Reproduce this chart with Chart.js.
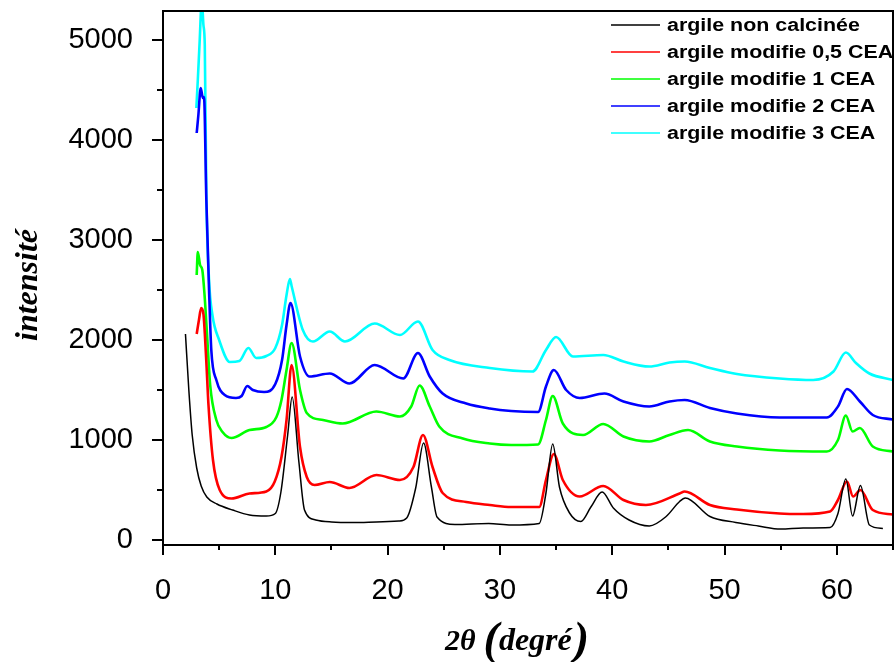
<!DOCTYPE html>
<html>
<head>
<meta charset="utf-8">
<script src="https://cdn.jsdelivr.net/npm/chart.js@4"></script>
<style>
  body { margin: 0; background: #fff; }
  canvas { display: block; }
</style>
</head>
<body>
<canvas id="xrd" width="895" height="662"></canvas>
<script>
// Series data (2θ in degrees, intensity)
const angleNonCalc = [2.0, 2.3, 2.6, 3.0, 3.4, 3.9, 4.8, 6.2, 7.7, 9.2, 10.0, 10.5, 11.1, 11.5, 12.1, 12.6, 13.6, 15, 17, 19, 21, 21.7, 22.5, 23.2, 23.9, 24.4, 26, 29, 31, 33.5, 34.1, 34.7, 35.3, 36.2, 37.2, 38.1, 39.1, 40.1, 41.5, 43.3, 44.8, 46.0, 46.5, 48.7, 51, 53, 55, 57, 59.4, 60.1, 60.8, 61.4, 62.1, 62.9, 64.1];
const intNonCalc = [2060, 1500, 1050, 720, 540, 430, 360, 300, 250, 240, 265, 480, 1050, 1430, 780, 300, 200, 180, 175, 180, 190, 220, 520, 970, 530, 230, 155, 165, 150, 165, 470, 960, 530, 270, 185, 330, 480, 320, 200, 140, 235, 385, 420, 235, 175, 140, 110, 120, 125, 265, 610, 240, 545, 150, 115];

const angle05 = [3.0, 3.2, 3.4, 3.6, 3.85, 4.05, 4.45, 5.05, 6.1, 7.7, 9.2, 9.95, 10.55, 11.0, 11.45, 12.2, 12.8, 13.5, 14.85, 16.6, 19.0, 21.1, 22.3, 23.15, 24.0, 24.9, 27.0, 29.1, 31, 33.5, 34.1, 34.8, 35.6, 37.1, 39.2, 41.0, 43.0, 46.0, 46.45, 48.7, 51.1, 54.9, 57, 59.4, 60.1, 60.9, 61.45, 62.1, 63.2, 65];
const int05 = [2060, 2200, 2320, 2260, 1800, 1350, 800, 500, 415, 465, 485, 585, 830, 1200, 1750, 930, 630, 550, 580, 520, 650, 600, 730, 1050, 730, 470, 380, 350, 330, 330, 600, 860, 600, 435, 540, 400, 350, 465, 485, 350, 305, 265, 260, 285, 400, 585, 435, 500, 300, 255];

const angle1 = [3.0, 3.1, 3.3, 3.5, 3.7, 3.95, 4.2, 4.75, 5.3, 6.1, 7.7, 9.2, 10.1, 10.55, 11.0, 11.45, 12.2, 12.8, 14.25, 16.0, 19.0, 21.1, 22.1, 22.85, 23.75, 24.6, 26.7, 29.1, 31, 33.4, 34.1, 34.7, 35.6, 37.4, 39.2, 41.0, 43.3, 45.1, 46.75, 48.7, 51.1, 54.9, 59.1, 60.1, 60.8, 61.4, 62.05, 63.2, 65];
const int1 = [2650, 2880, 2750, 2700, 2450, 2000, 1550, 1200, 1080, 1020, 1100, 1130, 1230, 1400, 1700, 1970, 1500, 1270, 1200, 1165, 1285, 1235, 1335, 1545, 1335, 1135, 1015, 965, 950, 955, 1200, 1440, 1165, 1050, 1160, 1035, 985, 1050, 1100, 985, 935, 895, 885, 1000, 1245, 1085, 1120, 935, 885];

const angle2 = [3.0, 3.15, 3.36, 3.55, 3.65, 3.86, 4.1, 4.3, 4.75, 5.5, 6.5, 7.0, 7.5, 8.0, 9.0, 10.0, 10.6, 11.0, 11.35, 12.2, 13.05, 14.85, 16.6, 18.85, 21.4, 22.7, 23.75, 24.9, 27.0, 29.1, 31, 33.4, 34.1, 34.8, 35.9, 37.1, 39.3, 41.0, 43.3, 45.1, 46.45, 48.7, 51.1, 54.9, 59.1, 60.1, 60.9, 62.05, 63.2, 65];
const int2 = [4070, 4250, 4520, 4420, 4430, 3400, 2500, 1900, 1600, 1450, 1420, 1440, 1540, 1500, 1480, 1560, 1800, 2150, 2370, 1835, 1635, 1665, 1565, 1750, 1615, 1870, 1635, 1465, 1365, 1315, 1290, 1280, 1535, 1700, 1500, 1420, 1465, 1385, 1335, 1385, 1400, 1320, 1265, 1225, 1225, 1335, 1510, 1385, 1250, 1205];

const angle3 = [2.97, 3.1, 3.27, 3.45, 3.6, 3.72, 3.86, 4.1, 4.4, 5.0, 5.95, 6.8, 7.6, 8.3, 9.2, 10.0, 10.6, 11.0, 11.3, 11.45, 12.45, 13.35, 14.85, 16.2, 18.85, 21.1, 22.7, 24.0, 25.5, 29.1, 32.9, 34.1, 35.0, 36.5, 39.2, 41.0, 43.3, 45.1, 46.45, 48.7, 51.1, 54.9, 57.9, 59.7, 60.8, 61.7, 62.9, 65];
const int3 = [4320, 4600, 5000, 5400, 5150, 4950, 3450, 2600, 2250, 2000, 1780, 1790, 1920, 1820, 1840, 1920, 2150, 2450, 2610, 2540, 2100, 1985, 2085, 1985, 2165, 2050, 2185, 1900, 1800, 1720, 1685, 1900, 2030, 1835, 1850, 1785, 1735, 1775, 1785, 1720, 1660, 1615, 1600, 1685, 1875, 1770, 1665, 1600];

const seriesLabels = [
    "argile non calcinée",
    "argile modifie 0,5 CEA",
    "argile modifie 1 CEA",
    "argile modifie 2 CEA",
    "argile modifie 3 CEA"
];
const seriesColors = ["#000000", "#ff0000", "#00ff00", "#0000ff", "#00ffff"];

// tick positions
const xTickValues = [0, 10, 20, 30, 40, 50, 60];
const yTickValues = [0, 1000, 2000, 3000, 4000, 5000];
const xMinorTicks = [5, 15, 25, 35, 45, 55, 65];
const yMinorTicks = [500, 1500, 2500, 3500, 4500];

function toPoints(xs, ys) {
    return xs.map((x, i) => ({ x: x, y: ys[i] }));
}

const allSeries = [
    toPoints(angleNonCalc, intNonCalc),
    toPoints(angle05, int05),
    toPoints(angle1, int1),
    toPoints(angle2, int2),
    toPoints(angle3, int3)
];

// axes frame, minor ticks, titles and legend
const decor = {
    id: "decor",
    afterDraw(chart) {
        const ctx = chart.ctx;
        const area = chart.chartArea;
        const xs = chart.scales.x;
        const ys = chart.scales.y;

        ctx.save();
        ctx.strokeStyle = "#000";
        ctx.lineWidth = 2;
        ctx.beginPath();
        ctx.moveTo(area.left, area.top);
        ctx.lineTo(area.right, area.top);
        ctx.lineTo(area.right, area.bottom + 1);
        ctx.stroke();

        xMinorTicks.forEach(v => {
            const px = Math.round(xs.getPixelForValue(v));
            ctx.beginPath();
            ctx.moveTo(px, area.bottom);
            ctx.lineTo(px, area.bottom + 5);
            ctx.stroke();
        });
        yMinorTicks.forEach(v => {
            const py = Math.round(ys.getPixelForValue(v));
            ctx.beginPath();
            ctx.moveTo(area.left - 6, py);
            ctx.lineTo(area.left, py);
            ctx.stroke();
        });

        // y title
        ctx.fillStyle = "#000";
        ctx.save();
        ctx.translate(37, 285);
        ctx.rotate(-Math.PI / 2);
        ctx.font = "bold italic 32px 'Liberation Serif'";
        ctx.textAlign = "center";
        ctx.textBaseline = "alphabetic";
        ctx.fillText("intensité", 0, 0);
        ctx.restore();

        // x title: 2θ (degré) with tall parentheses
        ctx.textBaseline = "alphabetic";
        ctx.textAlign = "left";
        let x = 445;
        const base = 650;
        ctx.font = "bold italic 30px 'Liberation Serif'";
        ctx.fillText("2θ", x, base);
        x += ctx.measureText("2θ").width + 8;
        ctx.font = "bold italic 46px 'Liberation Serif'";
        ctx.fillText("(", x, base + 4);
        x += ctx.measureText("(").width;
        ctx.font = "bold italic 32px 'Liberation Serif'";
        ctx.fillText("degré", x, base);
        x += ctx.measureText("degré").width + 2;
        ctx.font = "bold italic 46px 'Liberation Serif'";
        ctx.fillText(")", x, base + 4);

        // legend
        seriesLabels.forEach((label, i) => {
            const y = 25 + i * 27;
            ctx.strokeStyle = seriesColors[i];
            ctx.lineWidth = 1.5;
            ctx.beginPath();
            ctx.moveTo(611, y);
            ctx.lineTo(660, y);
            ctx.stroke();
            ctx.save();
            ctx.translate(667, y + 1);
            ctx.scale(1.19, 1);
            ctx.fillStyle = "#000";
            ctx.font = "bold 18px 'Liberation Sans'";
            ctx.textBaseline = "middle";
            ctx.fillText(label, 0, 0);
            ctx.restore();
        });
        ctx.restore();
    }
};

const tickFont = { family: "'Liberation Sans', Arial, sans-serif", size: 29 };

new Chart(document.getElementById("xrd"), {
    type: "line",
    data: {
        datasets: allSeries.map((pts, i) => ({
            label: seriesLabels[i],
            data: pts,
            borderColor: seriesColors[i],
            borderWidth: i === 0 ? 1.5 : 2.6,
            pointRadius: 0,
            fill: false,
            cubicInterpolationMode: "monotone"
        }))
    },
    options: {
        responsive: false,
        animation: false,
        layout: { padding: { top: 11, right: 2, left: 0, bottom: 0 } },
        plugins: {
            legend: { display: false },
            tooltip: { enabled: false }
        },
        scales: {
            x: {
                type: "linear",
                min: 0,
                max: 65,
                afterFit: s => { s.height = 117; s.paddingLeft = 0; s.paddingRight = 0; },
                afterBuildTicks: s => { s.ticks = xTickValues.map(v => ({ value: v })); },
                ticks: {
                    color: "#000",
                    font: tickFont,
                    padding: 19,
                    maxRotation: 0,
                    callback: v => String(v)
                },
                grid: { display: true, drawOnChartArea: false, tickLength: 10, color: "#000", lineWidth: 2 },
                border: { display: true, color: "#000", width: 2 }
            },
            y: {
                type: "linear",
                min: -50,
                max: 5290,
                afterFit: s => { s.width = 163; s.paddingTop = 0; s.paddingBottom = 0; },
                afterBuildTicks: s => { s.ticks = yTickValues.map(v => ({ value: v })); },
                ticks: {
                    color: "#000",
                    font: tickFont,
                    padding: 19,
                    callback: v => String(v)
                },
                grid: { display: true, drawOnChartArea: false, tickLength: 11, color: "#000", lineWidth: 2 },
                border: { display: true, color: "#000", width: 2 }
            }
        }
    },
    plugins: [decor]
});
</script>
</body>
</html>
